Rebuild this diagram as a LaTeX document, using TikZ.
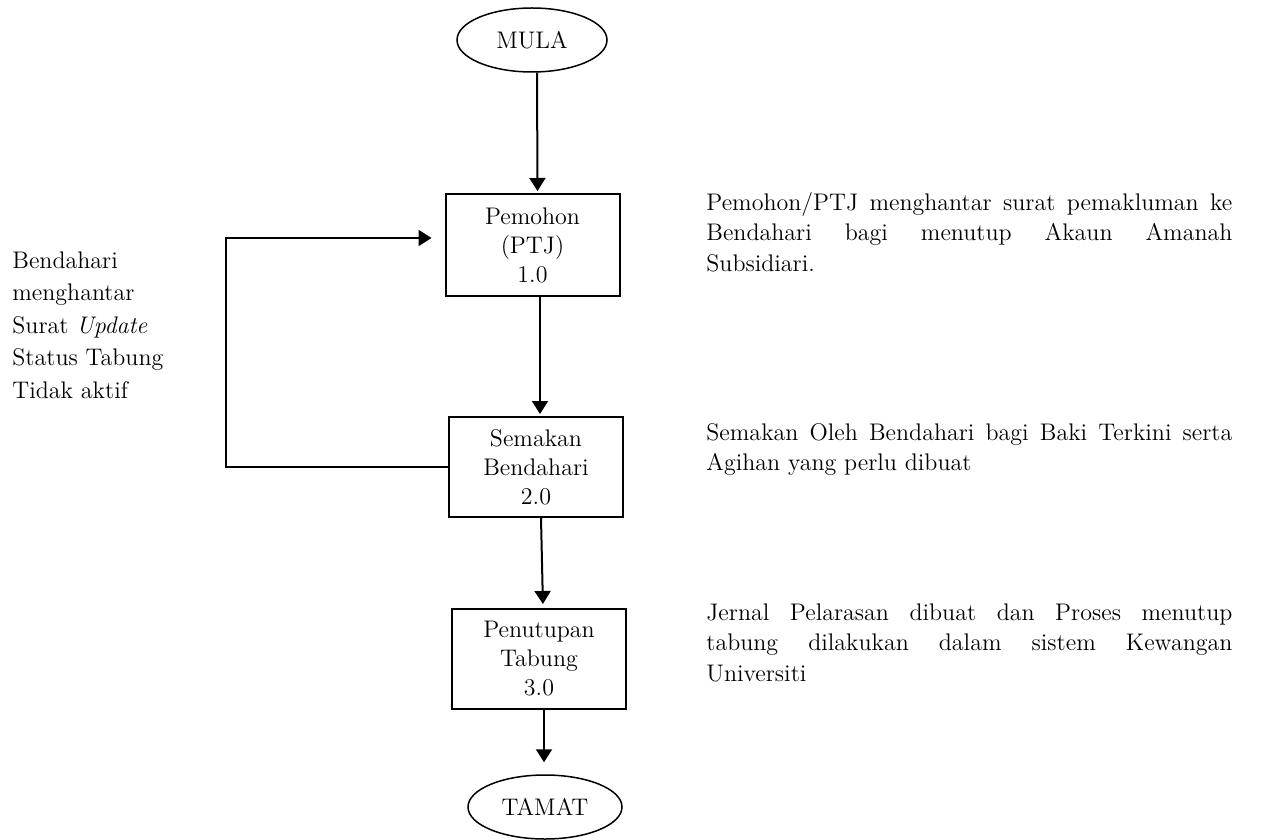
\documentclass[tikz,border=0pt]{standalone}
\usepackage{tikz}
\usetikzlibrary{shapes}
\usetikzlibrary{arrows.meta}
\usetikzlibrary{positioning}
\usetikzlibrary{calc}

\begin{document}
\begin{tikzpicture}[
  x=0.5pt, y=-0.5pt,
  flow/.style={
    -{Triangle[length=6.5pt,width=8pt]}, line width=1pt
  },
  proc/.style={
    rectangle, draw, line width=1pt,
    minimum width=87pt, minimum height=50pt,
    align=center, inner sep=0pt,
    font=\fontsize{12}{14.5}\selectfont},
  term/.style={
    ellipse, draw, line width=0.75pt,
    minimum width=75pt, minimum height=32pt,
    inner sep=0pt, font=\fontsize{12}{14.5}\selectfont},
  note/.style={
    anchor=north west, inner sep=0pt,
    text width=263pt, align=justify,
    font=\fontsize{12}{15.25}\selectfont},
]
  \useasboundingbox (0,0) rectangle (1261,839);

  % Start / end
  \node[term] (mula) at (532,40) {MULA};
  \node[term, minimum width=77pt] (tamat) at (545,807) {TAMAT};

  % Process boxes
  \node[proc, minimum height=51pt] (p1) at (532.5,245) {Pemohon\\(PTJ)\\1.0};
  \node[proc] (p2) at (536,467) {Semakan\\Bendahari\\2.0};
  \node[proc] (p3) at (539,659) {Penutupan\\Tabung\\3.0};

  % Main flow
  \draw[flow, shorten >=1pt] ([xshift=2.5pt]mula.south) -- ([xshift=2.5pt]p1.north);
  \draw[flow, shorten >=1pt] ([xshift=3.75pt]p1.south) -- ([xshift=2pt]p2.north);
  \draw[flow, shorten >=2pt] ([xshift=2.5pt]p2.south) -- ([xshift=2pt]p3.north);
  \draw[flow, shorten >=6pt] ([xshift=2.5pt]p3.south) -- ([xshift=-0.5pt]tamat.north);

  % Return path
  \coordinate (ret) at (226,238);
  \draw[flow, shorten >=6.5pt] (p2.west) -| (ret) -- ([yshift=3.5pt]p1.west);

  \node[anchor=north west, inner sep=0pt, align=left,
        font=\fontsize{12}{16.25}\selectfont] (why) at (12,251)
        {Bendahari\\menghantar\\Surat \textit{Update}\\Status Tabung\\Tidak aktif};

  % Notes
  \node[note] (n1) at (706,192)
    {Pemohon/PTJ menghantar surat pemakluman ke\linebreak
     Bendahari bagi menutup Akaun Amanah\linebreak Subsidiari.};
  \node[note] (n2) at (706,423)
    {Semakan Oleh Bendahari bagi Baki Terkini serta\linebreak
     Agihan yang perlu dibuat};
  \node[note] (n3) at (706,603)
    {Jernal Pelarasan dibuat dan Proses menutup\linebreak
     tabung dilakukan dalam sistem Kewangan\linebreak Universiti};

\end{tikzpicture}
\end{document}
